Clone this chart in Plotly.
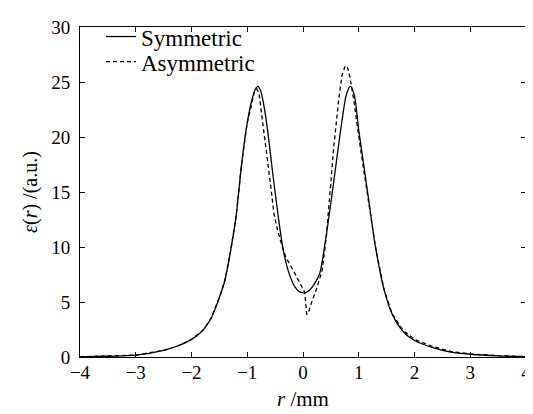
import plotly.graph_objects as go

# Symmetric profile
r_sym = [-4.0, -3.5, -3.0, -2.5, -2.25, -2.0, -1.8, -1.65, -1.5, -1.4, -1.3, -1.2, -1.1, -1.0,
         -0.92, -0.86, -0.81, -0.76, -0.7, -0.64, -0.55, -0.45, -0.35, -0.25, -0.15, -0.05,
         0.04, 0.12, 0.2, 0.3, 0.4, 0.5, 0.6, 0.7, 0.78, 0.85, 0.92, 1.0, 1.08, 1.2, 1.3,
         1.45, 1.6, 1.8, 2.0, 2.3, 2.65, 3.0, 3.5, 4.0]
eps_sym = [0.02, 0.07, 0.17, 0.6, 1.0, 1.6, 2.4, 3.5, 5.4, 7.0, 9.6, 12.8, 17.6, 21.3,
           23.3, 24.3, 24.6, 24.2, 22.8, 20.8, 17.0, 13.0, 9.6, 7.6, 6.4, 5.9,
           5.85, 6.1, 6.6, 7.6, 10.5, 14.0, 17.8, 21.5, 23.9, 24.6, 23.8, 20.6, 17.8, 13.5, 10.0,
           6.2, 3.9, 2.3, 1.5, 0.9, 0.45, 0.25, 0.1, 0.03]

# Asymmetric profile
r_asym = [-4.0, -3.5, -3.0, -2.5, -2.25, -2.0, -1.8, -1.65, -1.5, -1.4, -1.3, -1.2, -1.1, -1.0,
          -0.92, -0.87, -0.83, -0.79, -0.73, -0.65, -0.585, -0.52, -0.45, -0.37, -0.31,
          -0.2, -0.1, 0.0, 0.03, 0.05, 0.065, 0.09, 0.15, 0.25, 0.345, 0.42, 0.46, 0.55,
          0.64, 0.7, 0.745, 0.77, 0.8, 0.84, 0.91, 1.03, 1.18, 1.3, 1.45, 1.6, 1.8, 2.0,
          2.3, 2.65, 3.0, 3.5, 4.0]
eps_asym = [0.02, 0.07, 0.17, 0.6, 1.0, 1.6, 2.4, 3.5, 5.4, 7.0, 9.6, 12.8, 17.6, 21.3,
            23.2, 24.1, 24.4, 24.0, 21.6, 18.6, 15.8, 13.0, 11.4, 10.0, 9.1,
            8.1, 7.1, 6.2, 5.9, 4.8, 3.9, 3.9, 4.9, 6.3, 7.9, 11.0, 13.6, 19.0,
            23.4, 25.6, 26.3, 26.5, 26.3, 25.5, 23.4, 19.0, 14.0, 10.0, 6.2, 3.9, 2.4, 1.6,
            1.0, 0.5, 0.28, 0.12, 0.04]

x_ticks = [-4, -3, -2, -1, 0, 1, 2, 3, 4]
x_labels = ["\u22124", "\u22123", "\u22122", "\u22121", "0", "1", "2", "3", "4"]
y_ticks = [0, 5, 10, 15, 20, 25, 30]

FONT = "'Liberation Serif', 'Times New Roman', 'DejaVu Serif', serif"

fig = go.Figure()
fig.add_trace(go.Scatter(x=r_sym, y=eps_sym, mode="lines", name="Symmetric", legend="legend2",
                         line=dict(color="black", width=1.3, shape="spline", smoothing=0.8)))
fig.add_trace(go.Scatter(x=r_asym, y=eps_asym, mode="lines", name="Asymmetric", legend="legend3",
                         line=dict(color="black", width=1.3, dash="4px,3px")))

axis_common = dict(showgrid=False, zeroline=False, showline=True, linecolor="black",
                   linewidth=1, mirror="ticks", ticks="inside", ticklen=5,
                   tickcolor="black", tickwidth=1, automargin=False,
                   ticklabeloverflow="allow",
                   tickfont=dict(family=FONT, size=19, color="black"))

fig.update_xaxes(range=[-4, 4], tickvals=x_ticks, ticktext=x_labels,
                 ticklabelstandoff=-2,
                 title=dict(text="<i>r</i> /mm", font=dict(family=FONT, size=21, color="black"),
                            standoff=9),
                 **axis_common)
fig.update_yaxes(range=[0, 30], tickvals=y_ticks, ticklabelstandoff=5,
                 title=dict(text="<i>\u03b5</i>(<i>r</i>) /(a.u.)",
                            font=dict(family=FONT, size=20, color="black"), standoff=8),
                 **axis_common)

leg_common = dict(xanchor="left", yanchor="middle", bgcolor="rgba(0,0,0,0)", borderwidth=0,
                  font=dict(family=FONT, size=23, color="black"), itemwidth=30)

# page is offset by the browser's 8px body margin, so the figure is sized to fit
fig.update_layout(
    width=525, height=406,
    margin=dict(l=72, r=7, t=7, b=57),
    plot_bgcolor="white", paper_bgcolor="white",
    font=dict(family=FONT, color="black"),
    showlegend=True,
    legend2=dict(x=0.047, y=0.971, **leg_common),
    legend3=dict(x=0.047, y=0.895, **leg_common),
)

fig.write_html("out.html")
